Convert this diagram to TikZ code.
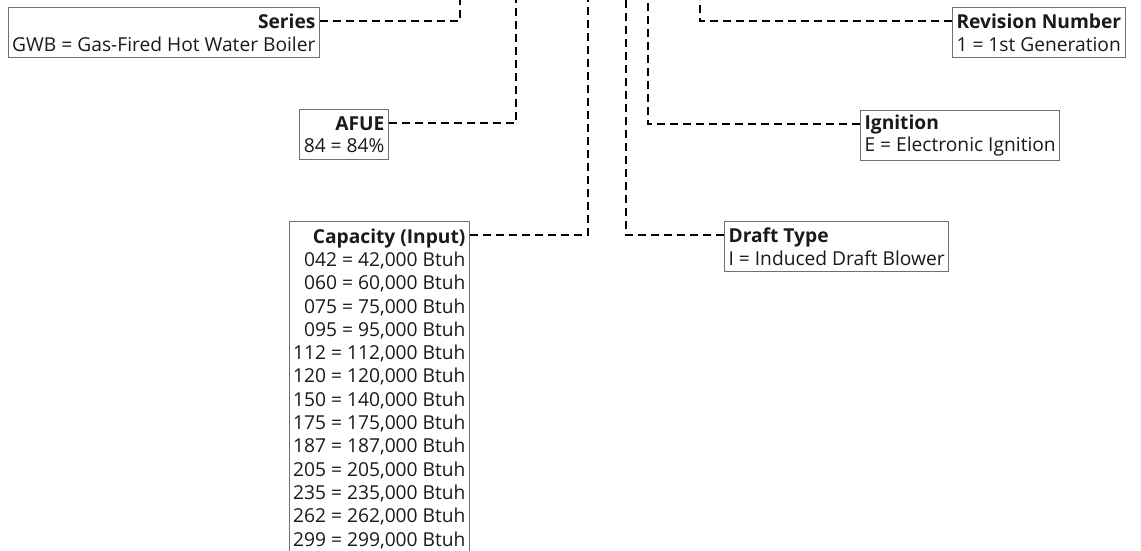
\documentclass[tikz,border=0pt]{standalone}
\usepackage{fontspec}
\setmainfont{Open Sans}
\definecolor{boxgray}{HTML}{707070}
\definecolor{txt}{HTML}{1A1A1A}
\begin{document}
\begin{tikzpicture}[x=1pt,y=-1pt,
  box/.style={draw=boxgray, line width=1.1pt, inner xsep=4pt, inner ysep=2pt,
    minimum height=50pt, font=\fontsize{19.2}{22.5}\selectfont, text=txt},
  lbox/.style={box, align=right},
  rbox/.style={box, align=left},
  conn/.style={draw=black, line width=2pt, dash pattern=on 8pt off 5pt}]
\clip (0,0) rectangle (1141,550);
\fill[white] (0,0) rectangle (1141,550);

\node[lbox, anchor=north east] (series) at (320,7)
  {\textbf{Series}\\GWB = Gas-Fired Hot Water Boiler};
\node[lbox, anchor=north east] (afue) at (389,109)
  {\textbf{AFUE}\\84 = 84\%};
\node[lbox, anchor=north east, inner ysep=7pt, minimum height=0pt,
  font=\fontsize{19.2}{23.3}\selectfont] (cap) at (470,221)
  {\textbf{Capacity (Input)}\\
   042 = 42,000 Btuh\\
   060 = 60,000 Btuh\\
   075 = 75,000 Btuh\\
   095 = 95,000 Btuh\\
   112 = 112,000 Btuh\\
   120 = 120,000 Btuh\\
   150 = 140,000 Btuh\\
   175 = 175,000 Btuh\\
   187 = 187,000 Btuh\\
   205 = 205,000 Btuh\\
   235 = 235,000 Btuh\\
   262 = 262,000 Btuh\\
   299 = 299,000 Btuh\\
   \strut};
\node[rbox, anchor=north west] (draft) at (724,221)
  {\textbf{Draft Type}\\I = Induced Draft Blower};
\node[rbox, anchor=north west] (ign) at (860,110)
  {\textbf{Ignition}\\E = Electronic Ignition};
\node[rbox, anchor=north west] (rev) at (952,7)
  {\textbf{Revision Number}\\1 = 1st Generation};

\coordinate (t1) at (460,0);
\coordinate (t2) at (516,0);
\coordinate (t3) at (588,0);
\coordinate (t4) at (626,0);
\coordinate (t5) at (648,0);
\coordinate (t6) at (700,0);

\draw[conn] ([yshift=-14pt]series.north east) -| (t1);
\draw[conn] ([yshift=-14pt]afue.north east) -| (t2);
\draw[conn] ([yshift=-14pt]cap.north east) -| (t3);
\draw[conn] ([yshift=-14pt]draft.north west) -| (t4);
\draw[conn] ([yshift=-14pt]ign.north west) -| (t5);
\draw[conn] ([yshift=-14pt]rev.north west) -| (t6);
\end{tikzpicture}
\end{document}
